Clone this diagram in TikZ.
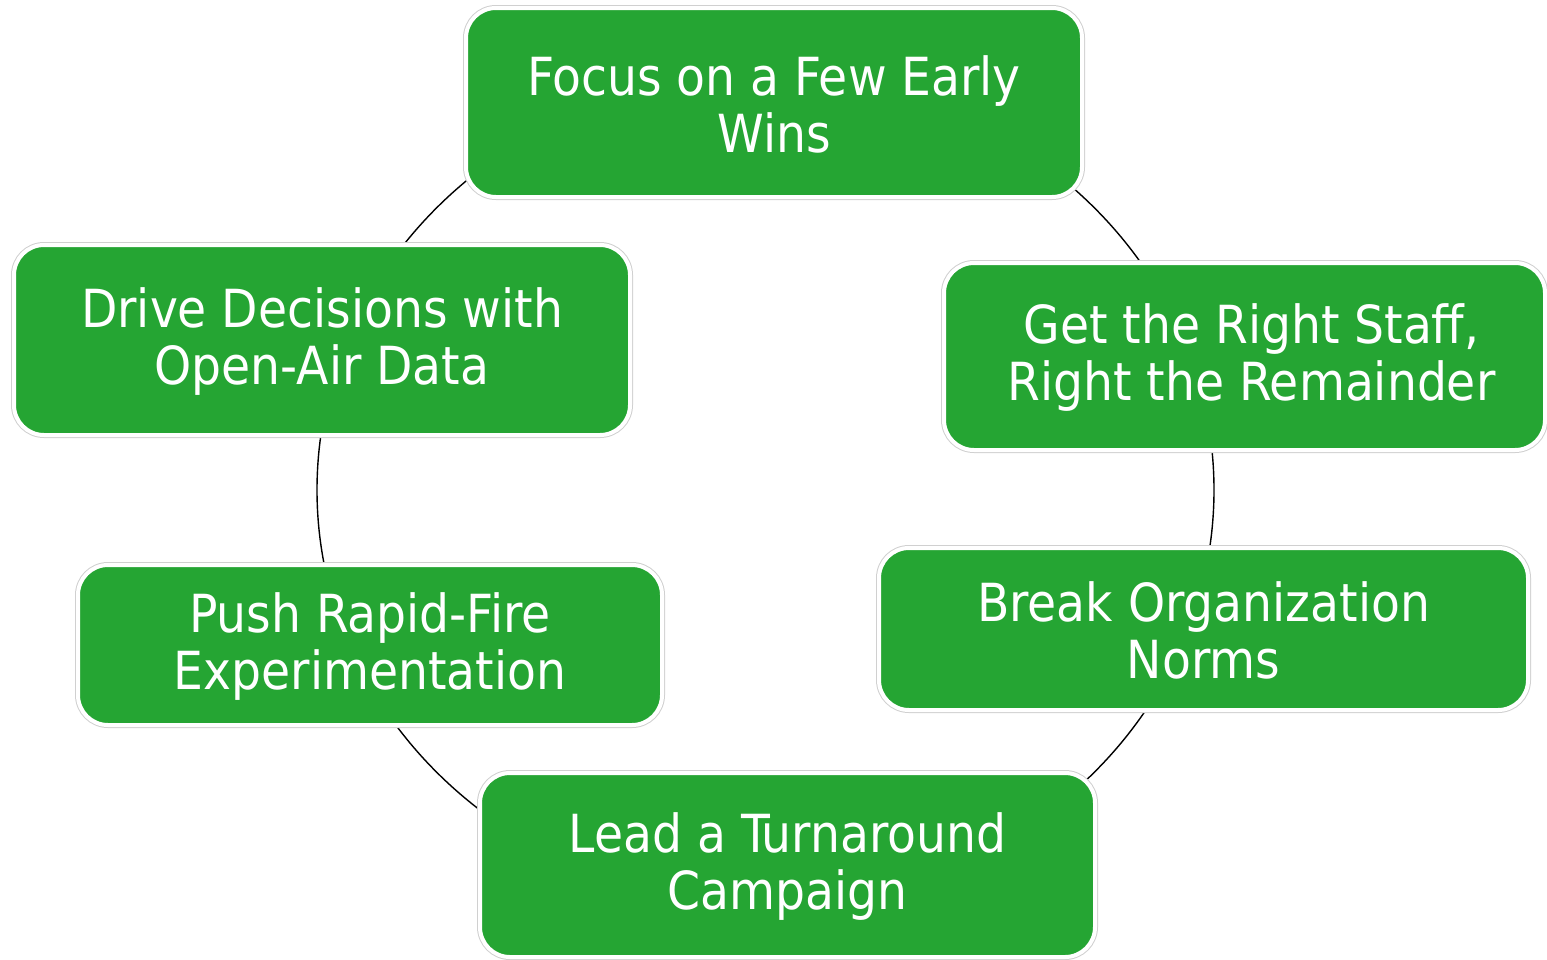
\documentclass[tikz,border=0pt]{standalone}
\usepackage{fontspec}
\setmainfont{DejaVu Sans Condensed}
\definecolor{boxgreen}{RGB}{37,165,51}
\definecolor{boxgray}{RGB}{208,208,208}
\tikzset{
  stagebox/.style={rectangle, rounded corners=30pt, fill=boxgreen, draw=white,
    line width=4pt, preaction={draw=boxgray, line width=6pt},
    inner sep=0pt, outer sep=0pt},
  stagetext/.style={text=white, align=center, inner sep=0pt, yshift=-1.5pt,
    font=\fontsize{52.5}{57}\selectfont},
  ring/.style={draw=black, line width=1.4pt}
}
\begin{document}
\begin{tikzpicture}[x=1pt,y=-1pt]
\useasboundingbox (0,0) rectangle (1547,959);
\coordinate (c) at (765.5,490);
\draw[ring] (c) ellipse [x radius=448.5pt, y radius=415pt];
\node[stagebox, minimum width=616pt, minimum height=189pt,
  label={[stagetext]center:{Focus on a Few Early\\Wins}}] (wins) at (774,102.5) {};
\node[stagebox, minimum width=601pt, minimum height=187pt,
  label={[stagetext, xshift=7pt]center:{Get the Right Staff,\\Right the Remainder}}] (staff) at (1244.5,356.5) {};
\node[stagebox, minimum width=649pt, minimum height=162pt,
  label={[stagetext]center:{Break Organization\\Norms}}] (norms) at (1203.5,629) {};
\node[stagebox, minimum width=615pt, minimum height=184pt,
  label={[stagetext]center:{Lead a Turnaround\\Campaign}}] (lead) at (787.5,865) {};
\node[stagebox, minimum width=584pt, minimum height=160pt,
  label={[stagetext]center:{Push Rapid-Fire\\Experimentation}}] (push) at (370,645) {};
\node[stagebox, minimum width=616pt, minimum height=190pt,
  label={[stagetext]center:{Drive Decisions with\\Open-Air Data}}] (drive) at (322,340) {};
\end{tikzpicture}
\end{document}
